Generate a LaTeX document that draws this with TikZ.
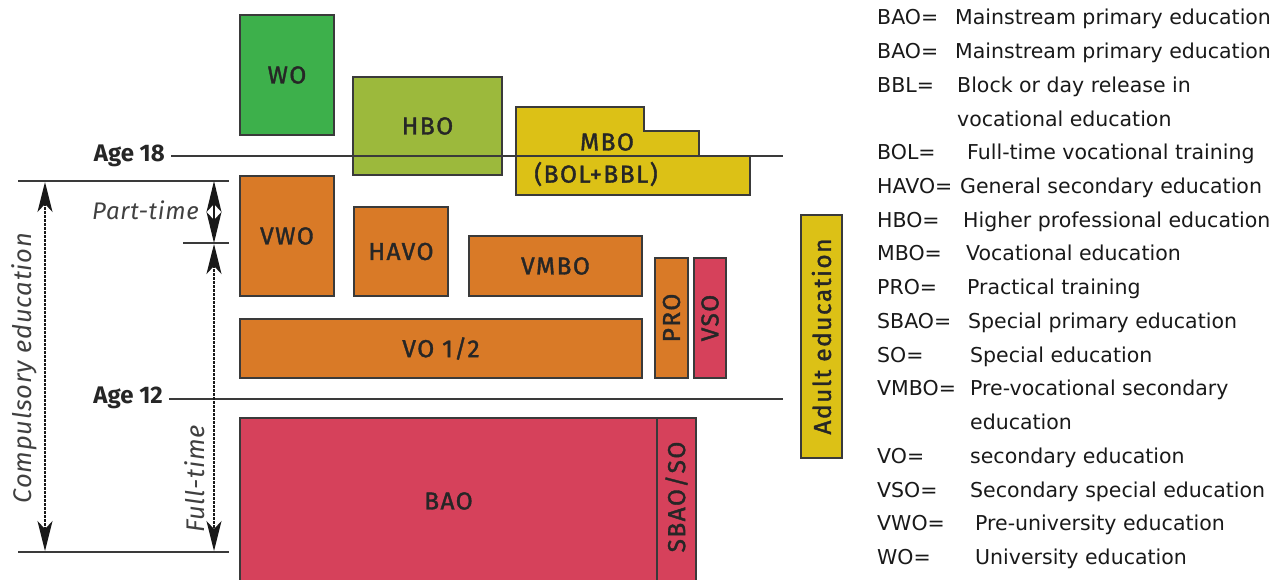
\documentclass[tikz,border=0pt]{standalone}
\usepackage{fontspec}
\setmainfont{Fira Sans}
\newfontfamily\legfont{DejaVu Sans}
\newfontfamily\boxfont[FakeBold=1.5,LetterSpace=6]{Fira Sans}
\newfontfamily\sidefont[LetterSpace=3]{Fira Sans}
\usetikzlibrary{arrows.meta}
\definecolor{cgreen}{HTML}{3DB04B}
\definecolor{colive}{HTML}{9CB93C}
\definecolor{cyellow}{HTML}{DCC116}
\definecolor{corange}{HTML}{D97A27}
\definecolor{cpink}{HTML}{D6415B}
\definecolor{cedge}{HTML}{3A3A3A}
\tikzset{
  boxtext/.style={font=\boxfont\fontsize{24.5}{26}\selectfont, text=black!85},
  box/.style={draw=cedge, line width=1.3pt, inner sep=0pt, boxtext},
  agelbl/.style={font=\bfseries\fontsize{24}{26}\selectfont, text=black!85, inner sep=0pt, anchor=east},
  ageline/.style={draw=cedge, line width=1.3pt},
  sideline/.style={draw=cedge, line width=1.5pt},
  dimarrow/.style={line width=1.5pt, draw=black!90, dash pattern=on 2.5pt off 1.5pt, {Stealth[length=30pt,width=15pt,inset=8pt]}-{Stealth[length=30pt,width=15pt,inset=8pt]}},
  solidhead/.style={line width=1.5pt, draw=black!90, -{Stealth[length=31pt,width=15pt,inset=8pt]}},
  sidelbl/.style={font=\sidefont\itshape\fontsize{24}{26}\selectfont, text=black!75, inner sep=0pt},
  abbr/.style={font=\legfont\fontsize{20.5}{22}\selectfont, text=black!90, anchor=base west, inner sep=0pt},
}
\begin{document}
\begin{tikzpicture}[x=1pt,y=-1pt]
\useasboundingbox (0,0) rectangle (1288,579);

% age lines
\node[agelbl] (age18) at (165,156) {Age 18};
\coordinate (a18e) at (783,156);
\node[agelbl] (age12) at (163,398) {Age 12};
\coordinate (a12e) at (783,399);

% upper boxes
\node[box, fill=cgreen, minimum width=94pt, minimum height=120pt] (wo) at (287,75) {WO};
\node[box, fill=colive, minimum width=149pt, minimum height=98pt] (hbo) at (427.5,126) {HBO};
% MBO step shape
\draw[draw=cedge, line width=1.3pt, fill=cyellow]
  (516,107) -- (644,107) -- (644,131) -- (699,131) -- (699,156) -- (750,156) -- (750,195) -- (516,195) -- cycle;
\draw[ageline] (age18.east) ++(6,0) -- (a18e);
\node[boxtext, inner sep=0pt] (mbo) at (607,142) {MBO};
\node[boxtext, inner sep=0pt] (bolbbl) at (596,174) {(BOL+BBL)};

% secondary
\node[box, fill=corange, minimum width=94pt, minimum height=120pt] (vwo) at (287,236) {VWO};
\node[box, fill=corange, minimum width=94pt, minimum height=89pt] (havo) at (401,251.5) {HAVO};
\node[box, fill=corange, minimum width=173pt, minimum height=60pt] (vmbo) at (555.5,266) {VMBO};
\node[box, fill=corange, minimum width=402pt, minimum height=59pt] (vo) at (441,348.5) {VO 1/2};
\node[box, fill=corange, minimum width=33pt, minimum height=120pt] (pro) at (671.5,318) {};
\node[boxtext, rotate=90] at (pro.center) {PRO};
\node[box, fill=cpink, minimum width=32pt, minimum height=120pt] (vso) at (710,318) {};
\node[boxtext, rotate=90] at (vso.center) {VSO};

\draw[ageline] (age12.east) ++(6,1) -- (a12e);

% adult education
\node[box, fill=cyellow, minimum width=41pt, minimum height=243pt] (adult) at (821.5,336.5) {};
\node[boxtext, rotate=90] at (adult.center) {Adult education};

% primary
\node[box, fill=cpink, minimum width=417pt, minimum height=166pt] (bao) at (448.5,501) {BAO};
\node[box, fill=cpink, minimum width=39pt, minimum height=166pt] (sbao) at (676.5,501) {};
\node[boxtext, rotate=90] at (676.5,497) {SBAO/SO};

% left side dimension lines
\coordinate (t1) at (18,181);
\coordinate (t2) at (229,181);
\coordinate (m1) at (183,243);
\coordinate (m2) at (229,243);
\coordinate (b1) at (18,552);
\coordinate (b2) at (229,552);
\draw[sideline] (t1) -- (t2);
\draw[sideline] (m1) -- (m2);
\draw[sideline] (b1) -- (b2);

\coordinate (ctop) at (45,182);
\coordinate (cbot) at (45,551);
\draw[dimarrow] (ctop) -- (cbot);
\node[sidelbl, rotate=90, font=\sidefont\itshape\fontsize{25.5}{27}\selectfont] (comp) at (24,368) {Compulsory education};

\coordinate (ftop) at (214,244);
\coordinate (fbot) at (214,551);
\draw[dimarrow] (ftop) -- (fbot);
\node[sidelbl, rotate=90, font=\sidefont\itshape\fontsize{25.5}{27}\selectfont] (full) at (195,479) {Full-time};

\coordinate (pmid) at (214,212);
\coordinate (ptop) at (214,181);
\coordinate (pbot) at (214,243);
\draw[solidhead] (pmid) -- (ptop);
\draw[solidhead] (pmid) -- (pbot);
\node[sidelbl, anchor=east] (part) at (199,210) {Part-time};

% legend
\foreach \y/\a/\x/\d in {
  17/BAO=/955/Mainstream primary education,
  51/BAO=/955/Mainstream primary education,
  85/BBL=/957/Block or day release in,
  152/BOL=/967/Full-time vocational training,
  186/HAVO=/960/General secondary education,
  220/HBO=/963/Higher professional education,
  253/MBO=/966/Vocational education,
  287/PRO=/967/Practical training,
  321/SBAO=/968/Special primary education,
  355/SO=/970/Special education,
  388/VMBO=/970/Pre-vocational secondary,
  456/VO=/970/secondary education,
  490/VSO=/970/Secondary special education,
  523/VWO=/975/Pre-university education,
  557/WO=/975/University education}
{
  \node[abbr] at (877,\y+7) {\a};
  \node[abbr] at (\x,\y+7) {\d};
}
\node[abbr] (l1) at (957,126) {vocational education};
\node[abbr] (l2) at (970,429) {education};
\end{tikzpicture}
\end{document}
